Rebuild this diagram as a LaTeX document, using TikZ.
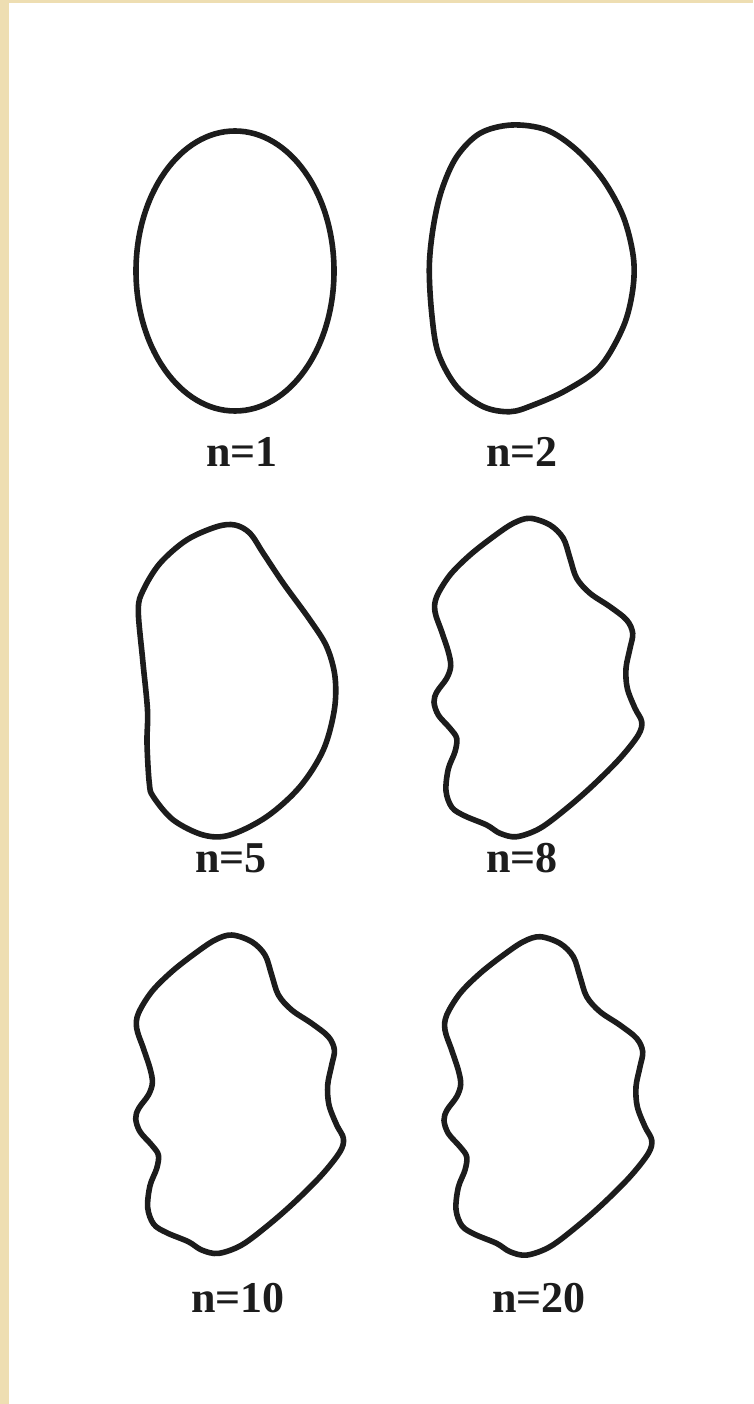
\documentclass[tikz,border=0pt]{standalone}
\usepackage{fontspec}
\setmainfont{Liberation Serif}
\definecolor{parch}{RGB}{238,222,178}
\definecolor{ink}{RGB}{28,28,28}
\tikzset{
  shapeline/.style={line width=5.6pt, draw=ink, line join=round},
  lab/.style={font=\fontsize{44}{50}\selectfont\bfseries, text=ink, anchor=base, inner sep=0pt},
  wavy/.pic={
    \draw[shapeline] plot[smooth cycle, tension=0.55] coordinates{
      (530,518.3) (550,525) (563.3,538.3) (570,558.3) (576.7,578.3) (590,593.3)
      (610,606.7) (626.7,620) (632.7,633.3) (630,648.3) (626,668.3) (627.3,688.3)
      (635,708.3) (641.7,721.7) (638.3,735) (620,758.3) (593.3,785) (566.7,808.3)
      (540,828.3) (516.7,836.7) (500,833.3) (486.7,825) (465,816) (452,807.5)
      (446,791) (448.3,769) (455,751.7) (456.7,738.3) (450,728.3) (438.3,715)
      (434,702) (437,691.7) (446.7,678.3) (450.7,666) (448.3,651.7)
      (441.7,631.7) (435,611.7) (436.7,596.7) (450,575) (470,555) (493.3,536.7)
      (513.3,523.3)};
  }
}
\begin{document}
\begin{tikzpicture}[x=1pt,y=-1pt]
\fill[white] (0,0) rectangle (753,1404);
\useasboundingbox (0,0) rectangle (753,1404);
\fill[parch] (0,0) rectangle (8.5,1404);
\fill[parch] (0,0) rectangle (753,3);
% n=1
\draw[shapeline] (235,271) ellipse [x radius=99, y radius=140];
% n=2
\draw[shapeline] plot[smooth cycle, tension=0.55] coordinates{
  (511.7,125) (546.7,130) (576.7,150) (603.3,180) (623.3,216.7) (633.3,256.7)
  (632.7,290) (623.3,326.7) (600,366.7) (566.7,390) (533.3,405) (510,411.7)
  (483.3,406.7) (456.7,386.7) (438.3,353.3) (431.7,313.3) (429.3,266.7)
  (433.3,226.7) (441.7,190) (456.7,156.7) (480,133.3)};
% n=5
\draw[shapeline] plot[smooth cycle, tension=0.55] coordinates{
  (138.3,610) (142.7,660) (147.5,710) (147,743.3) (149.3,783.3) (153.3,796.7)
  (173.3,820) (203.3,835) (230,835) (266.7,816.7) (300,786.7) (323.3,750)
  (334.3,710) (335,676.7) (326.7,646.7) (310,620) (283.3,583.3) (263.3,553.3)
  (250,533.3) (235,525) (216.7,526.7) (186.7,540) (160,563.3) (143.3,590)};
% n=8, n=10, n=20
\pic at (0,0) {wavy};
\pic at (-298.3,416.7) {wavy};
\pic at (10,418.4) {wavy};
% labels
\node[lab] (l1) at (242,466) {n=1};
\node[lab] (l2) at (522,466) {n=2};
\node[lab] (l5) at (231,872) {n=5};
\node[lab] (l8) at (522,872) {n=8};
\node[lab] (l10) at (238,1312) {n=10};
\node[lab] (l20) at (539,1312) {n=20};
\end{tikzpicture}
\end{document}
